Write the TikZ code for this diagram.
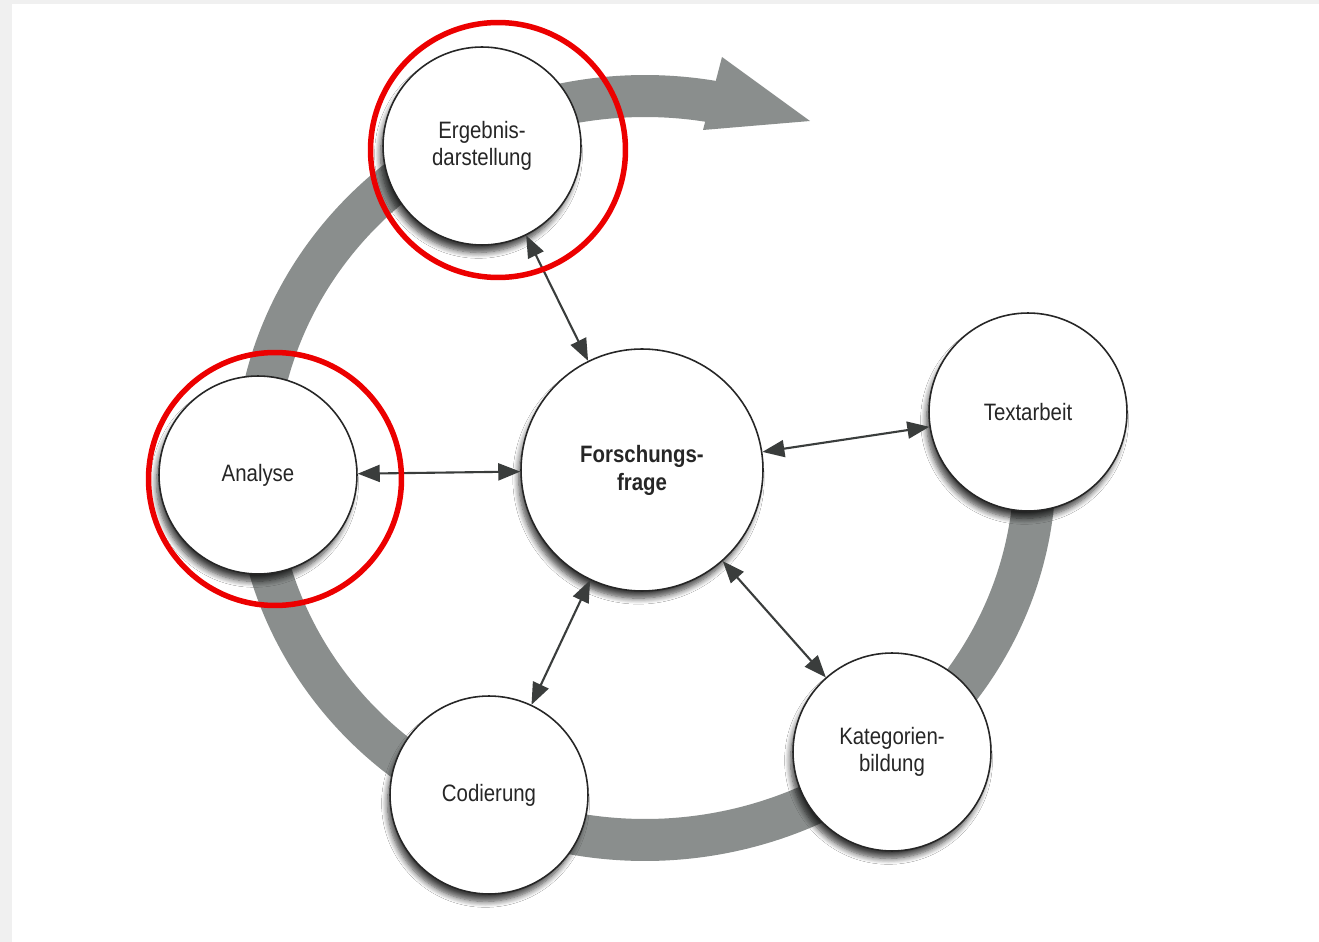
\documentclass[tikz,border=0pt]{standalone}
\usepackage{fontspec}
\newfontfamily\stagefont[FakeStretch=0.86]{Liberation Sans}
\usetikzlibrary{arrows.meta,shadows.blur}

\definecolor{ringgray}{RGB}{138,142,141}
\definecolor{linkgray}{RGB}{58,61,60}
\definecolor{markred}{RGB}{236,0,0}
\definecolor{scanedge}{RGB}{240,240,240}

\tikzset{
	stage/.style={
		circle, draw=black!85, line width=0.9pt, fill=white,
		inner sep=0pt, minimum size=3.96cm, align=center,
		text=black!85, font={\stagefont\fontsize{13.5}{15.5}\selectfont},
		blur shadow={shadow xshift=-0.07cm, shadow yshift=-0.17cm,
			shadow blur radius=0.12cm, shadow blur steps=8,
			shadow opacity=75, shadow scale=0.99},
	},
	core/.style={stage, minimum size=4.84cm,
		font={\stagefont\bfseries\fontsize{13.5}{16}\selectfont}},
	link/.style={linkgray, line width=1.2pt,
		{Triangle[length=0.44cm,width=0.34cm]}-{Triangle[length=0.44cm,width=0.34cm]}},
	ring/.style={ringgray, line width=0.84cm},
	marker/.style={markred, line width=0.11cm},
}

\begin{document}
\begin{tikzpicture}[x=0.02cm, y=-0.02cm]
	\useasboundingbox (0,0) rectangle (1319,942);
	% scanned page edge
	\fill[scanedge] (0,0) rectangle (1319,942);
	\fill[white] (12,4) rectangle (1319,942);

	% the big gray cycle, ending in an arrow head at the top
	\draw[ring] plot[domain=-281:5, samples=150, smooth]
		({645+390*cos(\x)},{468-372*sin(\x)});
	\fill[ringgray] (722,57) -- (810,121) -- (703,130) -- cycle;

	% stages of the cycle
	\node[stage] (erg) at (482,146) {Ergebnis-\\darstellung};
	\node[stage] (ana) at (258,475) {Analyse};
	\node[core] (frage) at (642,470) {Forschungs-\\frage};
	\node[stage] (text) at (1028,412) {Textarbeit};
	\node[stage] (kat) at (892,752) {Kategorien-\\bildung};
	\node[stage] (cod) at (489,795) {Codierung};

	% every stage talks back to the question
	\foreach \n in {erg,ana,text,kat,cod}
		\draw[link] (frage) -- (\n);

	% red highlights
	\draw[marker] (498,150) circle[radius=2.55cm];
	\draw[marker] (275,479) circle[radius=2.53cm];
\end{tikzpicture}
\end{document}
